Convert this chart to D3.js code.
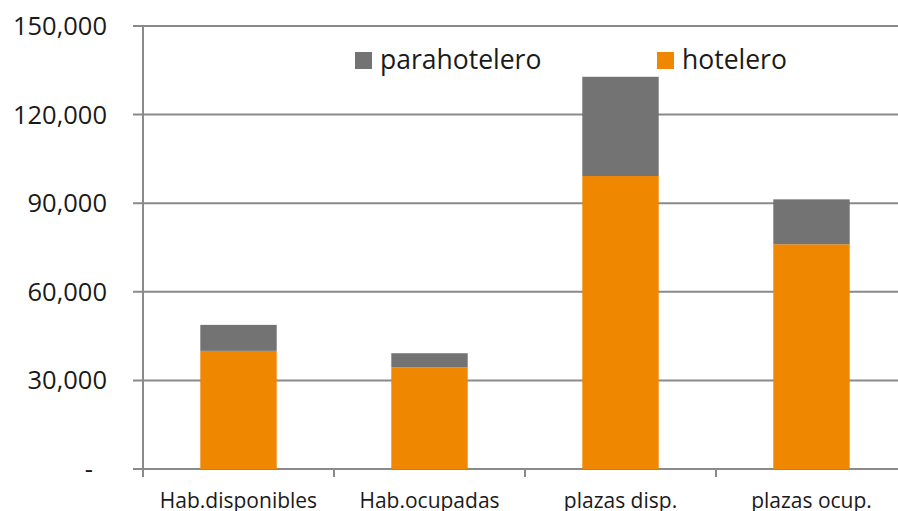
<!DOCTYPE html>
<html>
<head>
<meta charset="utf-8">
<script src="https://cdn.jsdelivr.net/npm/d3@7"></script>
<style>
  body { margin: 0; background: #fff; }
  text { font-family: "Open Sans", "Noto Sans", sans-serif; fill: #1a1a1a; }
</style>
</head>
<body>
<svg id="chart" width="898" height="511"></svg>
<script>
const categories = ["Hab.disponibles", "Hab.ocupadas", "plazas disp.", "plazas ocup."];
const hotelero = [40000, 34400, 99200, 76100];
const parahotelero = [8800, 4800, 33600, 15200];
const yTicks = [0, 30000, 60000, 90000, 120000, 150000];

const svg = d3.select("#chart");
const margin = { left: 143, right: -9, top: 26, bottom: 42 };
const width = 898 - margin.left - margin.right;
const height = 511 - margin.top - margin.bottom;
const gridColor = "#8a8a8a";

const g = svg.append("g").attr("transform", `translate(${margin.left},${margin.top})`);

const x = d3.scaleBand().domain(categories).range([0, width])
            .paddingInner(0.6).paddingOuter(0.3);
const y = d3.scaleLinear().domain([0, 150000]).range([height, 0]);

// gridlines + y labels
const fmt = d3.format(",");
yTicks.forEach(t => {
  g.append("line")
    .attr("x1", -10).attr("x2", width)
    .attr("y1", y(t)).attr("y2", y(t))
    .attr("stroke", gridColor).attr("stroke-width", 2);
  g.append("text")
    .attr("x", t === 0 ? -50 : -36)
    .attr("y", y(t))
    .attr("dy", "0.35em")
    .attr("text-anchor", "end")
    .style("font-size", "25.5px")
    .text(t === 0 ? "-" : fmt(t));
});

// stacked bars
const stackData = categories.map((c, i) => ({ cat: c, hotelero: hotelero[i], parahotelero: parahotelero[i] }));
const stack = d3.stack().keys(["hotelero", "parahotelero"])(stackData);
const colors = { hotelero: "#f08700", parahotelero: "#737373" };

stack.forEach(layer => {
  g.selectAll(null).data(layer).join("rect")
    .attr("x", d => x(d.data.cat))
    .attr("y", d => y(d[1]))
    .attr("width", x.bandwidth())
    .attr("height", d => y(d[0]) - y(d[1]))
    .attr("fill", colors[layer.key]);
});

// y axis line
g.append("line")
  .attr("x1", 0).attr("x2", 0)
  .attr("y1", 0).attr("y2", height + 8)
  .attr("stroke", gridColor).attr("stroke-width", 2);

// category boundary ticks
const step = x.step();
categories.forEach((c, i) => {
  const bx = (i + 1) * step;
  g.append("line")
    .attr("x1", bx).attr("x2", bx)
    .attr("y1", height).attr("y2", height + 8)
    .attr("stroke", gridColor).attr("stroke-width", 2);
  g.append("text")
    .attr("x", x(c) + x.bandwidth() / 2)
    .attr("y", height + 39)
    .attr("text-anchor", "middle")
    .style("font-size", "21px")
    .text(c);
});

// legend
const legendItems = [
  { key: "parahotelero", x: 355 },
  { key: "hotelero", x: 657 }
];
legendItems.forEach(d => {
  svg.append("rect")
    .attr("x", d.x).attr("y", 52)
    .attr("width", 17).attr("height", 17)
    .attr("fill", colors[d.key]);
  svg.append("text")
    .attr("x", d.x + 25).attr("y", 60)
    .attr("dy", "0.35em")
    .style("font-size", "26.5px")
    .text(d.key);
});
</script>
</body>
</html>
